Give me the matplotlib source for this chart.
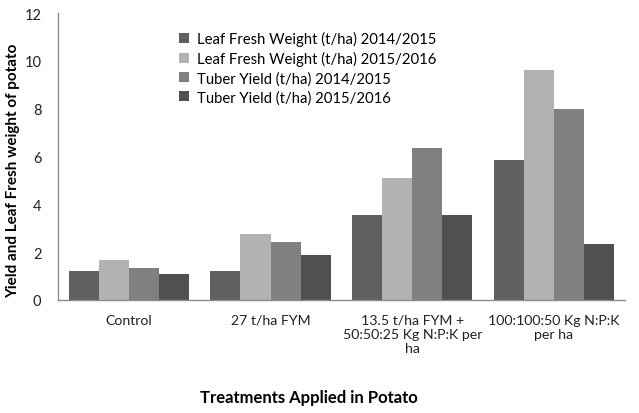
import matplotlib
matplotlib.use("Agg")
import matplotlib.pyplot as plt
import numpy as np

categories = ["Control", "27 t/ha FYM", "13.5 t/ha FYM +\n50:50:25 Kg N:P:K per\nha", "100:100:50 Kg N:P:K\nper ha"]
series_names = ["Leaf Fresh Weight (t/ha) 2014/2015", "Leaf Fresh Weight (t/ha) 2015/2016",
                "Tuber Yield (t/ha) 2014/2015", "Tuber Yield (t/ha) 2015/2016"]
leaf_1415 = [1.23, 1.23, 3.57, 5.86]
leaf_1516 = [1.67, 2.76, 5.10, 9.62]
tuber_1415 = [1.34, 2.43, 6.36, 7.99]
tuber_1516 = [1.09, 1.88, 3.57, 2.34]
colors = ["#606060", "#b2b2b2", "#808080", "#505050"]

plt.rcParams['font.family'] = ['Lato', 'DejaVu Sans']
fig = plt.figure(figsize=(6.39, 4.14), dpi=100)
ax = fig.add_axes([0.0908, 0.273, 0.887, 0.693])

x = np.arange(len(categories))
w = 0.2125
for i, (vals, name, c) in enumerate(zip([leaf_1415, leaf_1516, tuber_1415, tuber_1516], series_names, colors)):
    ax.bar(x + (i - 1.5) * w, vals, width=w, color=c, label=name)

ax.set_xlim(-0.5, len(categories) - 0.5)
ax.set_ylim(0, 12)
ax.set_yticks(range(0, 13, 2))
ax.set_xticks(x)
ax.set_xticklabels(categories, fontsize=10.2, color="#222222")
ax.tick_params(axis='both', length=0, labelsize=10.5, colors="#222222")
ax.tick_params(axis='x', pad=10, labelsize=10.2)
ax.tick_params(axis='y', pad=12)
for s in ["top", "right"]:
    ax.spines[s].set_visible(False)
for s in ["left", "bottom"]:
    ax.spines[s].set_color("#8c8c8c")
    ax.spines[s].set_linewidth(1.0)

ax.set_ylabel("Yield and Leaf Fresh weight of potato", fontsize=11, fontweight="bold")
ax.yaxis.set_label_coords(-0.066, 0.453)
ax.set_xlabel("Treatments Applied in Potato", fontsize=12, fontweight="bold")
ax.xaxis.set_label_coords(0.443, -0.31)

leg = ax.legend(loc="upper left", bbox_to_anchor=(0.19, 0.983), frameon=False, fontsize=10.7,
                handlelength=0.7, handleheight=0.7, handletextpad=0.5, labelspacing=0.32)

fig.savefig("out.png", dpi=100)
